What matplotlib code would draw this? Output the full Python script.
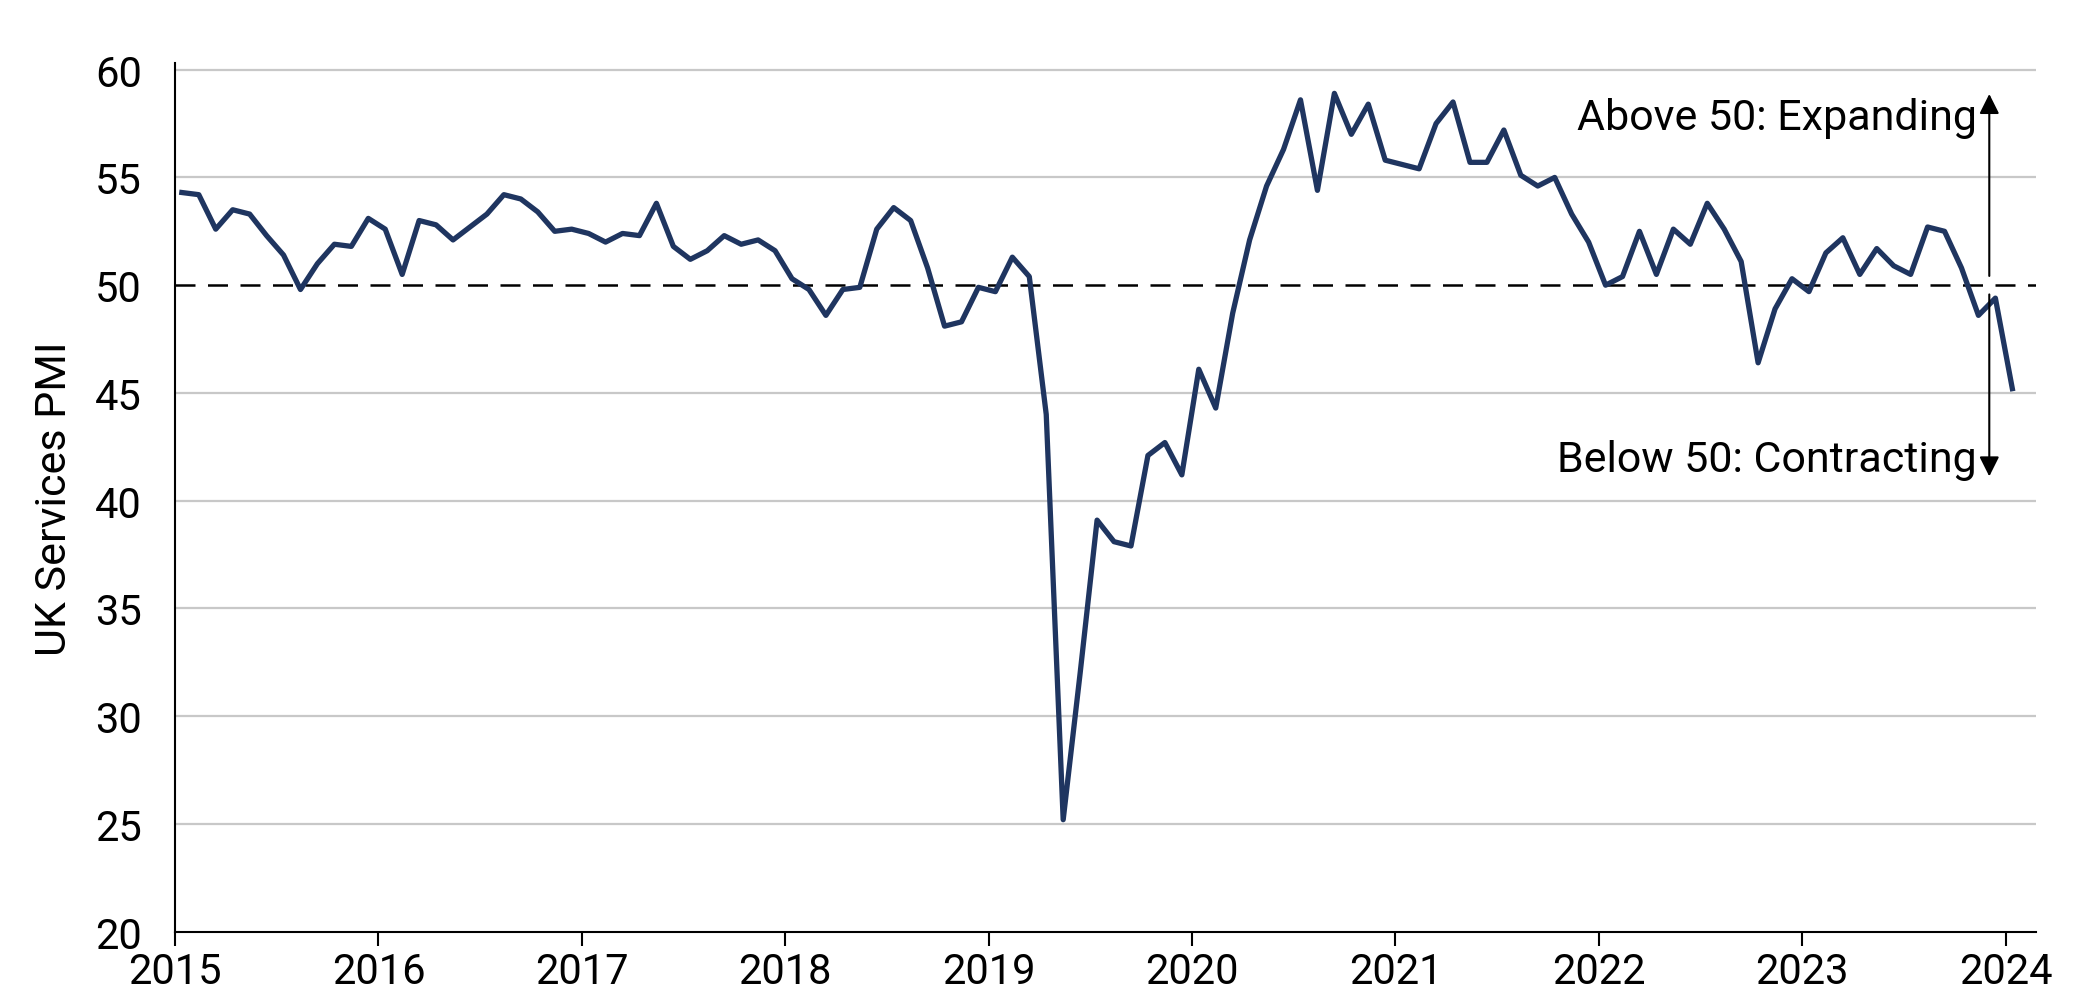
import matplotlib
matplotlib.use("Agg")
from matplotlib import pyplot as plt
import numpy as np

# UK services PMI, monthly from Jan 2015 to Jan 2024
pmi_2015 = [54.3, 54.2, 52.6, 53.5, 53.3, 52.3, 51.4, 49.8, 51.0, 51.9, 51.8, 53.1]
pmi_2016 = [52.6, 50.5, 53.0, 52.8, 52.1, 52.7, 53.3, 54.2, 54.0, 53.4, 52.5, 52.6]
pmi_2017 = [52.4, 52.0, 52.4, 52.3, 53.8, 51.8, 51.2, 51.6, 52.3, 51.9, 52.1, 51.6]
pmi_2018 = [50.3, 49.8, 48.6, 49.8, 49.9, 52.6, 53.6, 53.0, 50.8, 48.1, 48.3, 49.9]
pmi_2019 = [49.7, 51.3, 50.4, 44.0, 25.2, 32.0, 39.1, 38.1, 37.9, 42.1, 42.7, 41.2]
pmi_2020 = [46.1, 44.3, 48.7, 52.1, 54.6, 56.3, 58.6, 54.4, 58.9, 57.0, 58.4, 55.8]
pmi_2021 = [55.6, 55.4, 57.5, 58.5, 55.7, 55.7, 57.2, 55.1, 54.6, 55.0, 53.3, 52.0]
pmi_2022 = [50.0, 50.4, 52.5, 50.5, 52.6, 51.9, 53.8, 52.6, 51.1, 46.4, 48.9, 50.3]
pmi_2023 = [49.7, 51.5, 52.2, 50.5, 51.7, 50.9, 50.5, 52.7, 52.5, 50.8, 48.6, 49.4]
pmi_2024 = [45.2]

pmi = pmi_2015 + pmi_2016 + pmi_2017 + pmi_2018 + pmi_2019 + pmi_2020 + pmi_2021 + pmi_2022 + pmi_2023 + pmi_2024
years = list(range(2015, 2025))
yticks = [20, 25, 30, 35, 40, 45, 50, 55, 60]

x = 2015 + (np.arange(len(pmi)) + 0.4) / 12

plt.rcParams["font.family"] = ["Liberation Sans Narrow", "Roboto", "DejaVu Sans"]
fig = plt.figure(figsize=(20.84, 10.03), dpi=100)
ax = fig.add_axes([0.084, 0.07, 0.893, 0.866])

for t in yticks[1:]:
    if t != 50:
        ax.axhline(t, color="#c8c8c8", lw=1.6, zorder=0)
ax.axhline(50, color="black", lw=1.8, ls=(0, (8, 5)), zorder=1)
ax.plot(x, pmi, color="#1f3560", lw=3.8, zorder=3)

ax.set_xlim(2015, 2024.15)
ax.set_ylim(20, 60.3)
ax.set_xticks(years)
ax.set_yticks(yticks)
ax.tick_params(axis="both", labelsize=30, length=10, width=1.5, color="black")
ax.tick_params(axis="y", length=0, pad=24)
ax.set_ylabel("UK Services PMI", fontsize=31, labelpad=14)
for s in ["top", "right"]:
    ax.spines[s].set_visible(False)
ax.spines["left"].set_linewidth(1.5)
ax.spines["bottom"].set_linewidth(1.5)

ax_x = 2023.92
ax.annotate("", xy=(ax_x, 59.0), xytext=(ax_x, 50.3),
            arrowprops=dict(arrowstyle="-|>,head_width=0.6,head_length=1.2", color="black", lw=1.5))
ax.annotate("", xy=(ax_x, 41.0), xytext=(ax_x, 49.7),
            arrowprops=dict(arrowstyle="-|>,head_width=0.6,head_length=1.2", color="black", lw=1.5))
ax.text(ax_x - 0.06, 57.8, "Above 50: Expanding", ha="right", va="center", fontsize=31)
ax.text(ax_x - 0.06, 41.9, "Below 50: Contracting", ha="right", va="center", fontsize=31)

fig.savefig("out.png", dpi=100)
